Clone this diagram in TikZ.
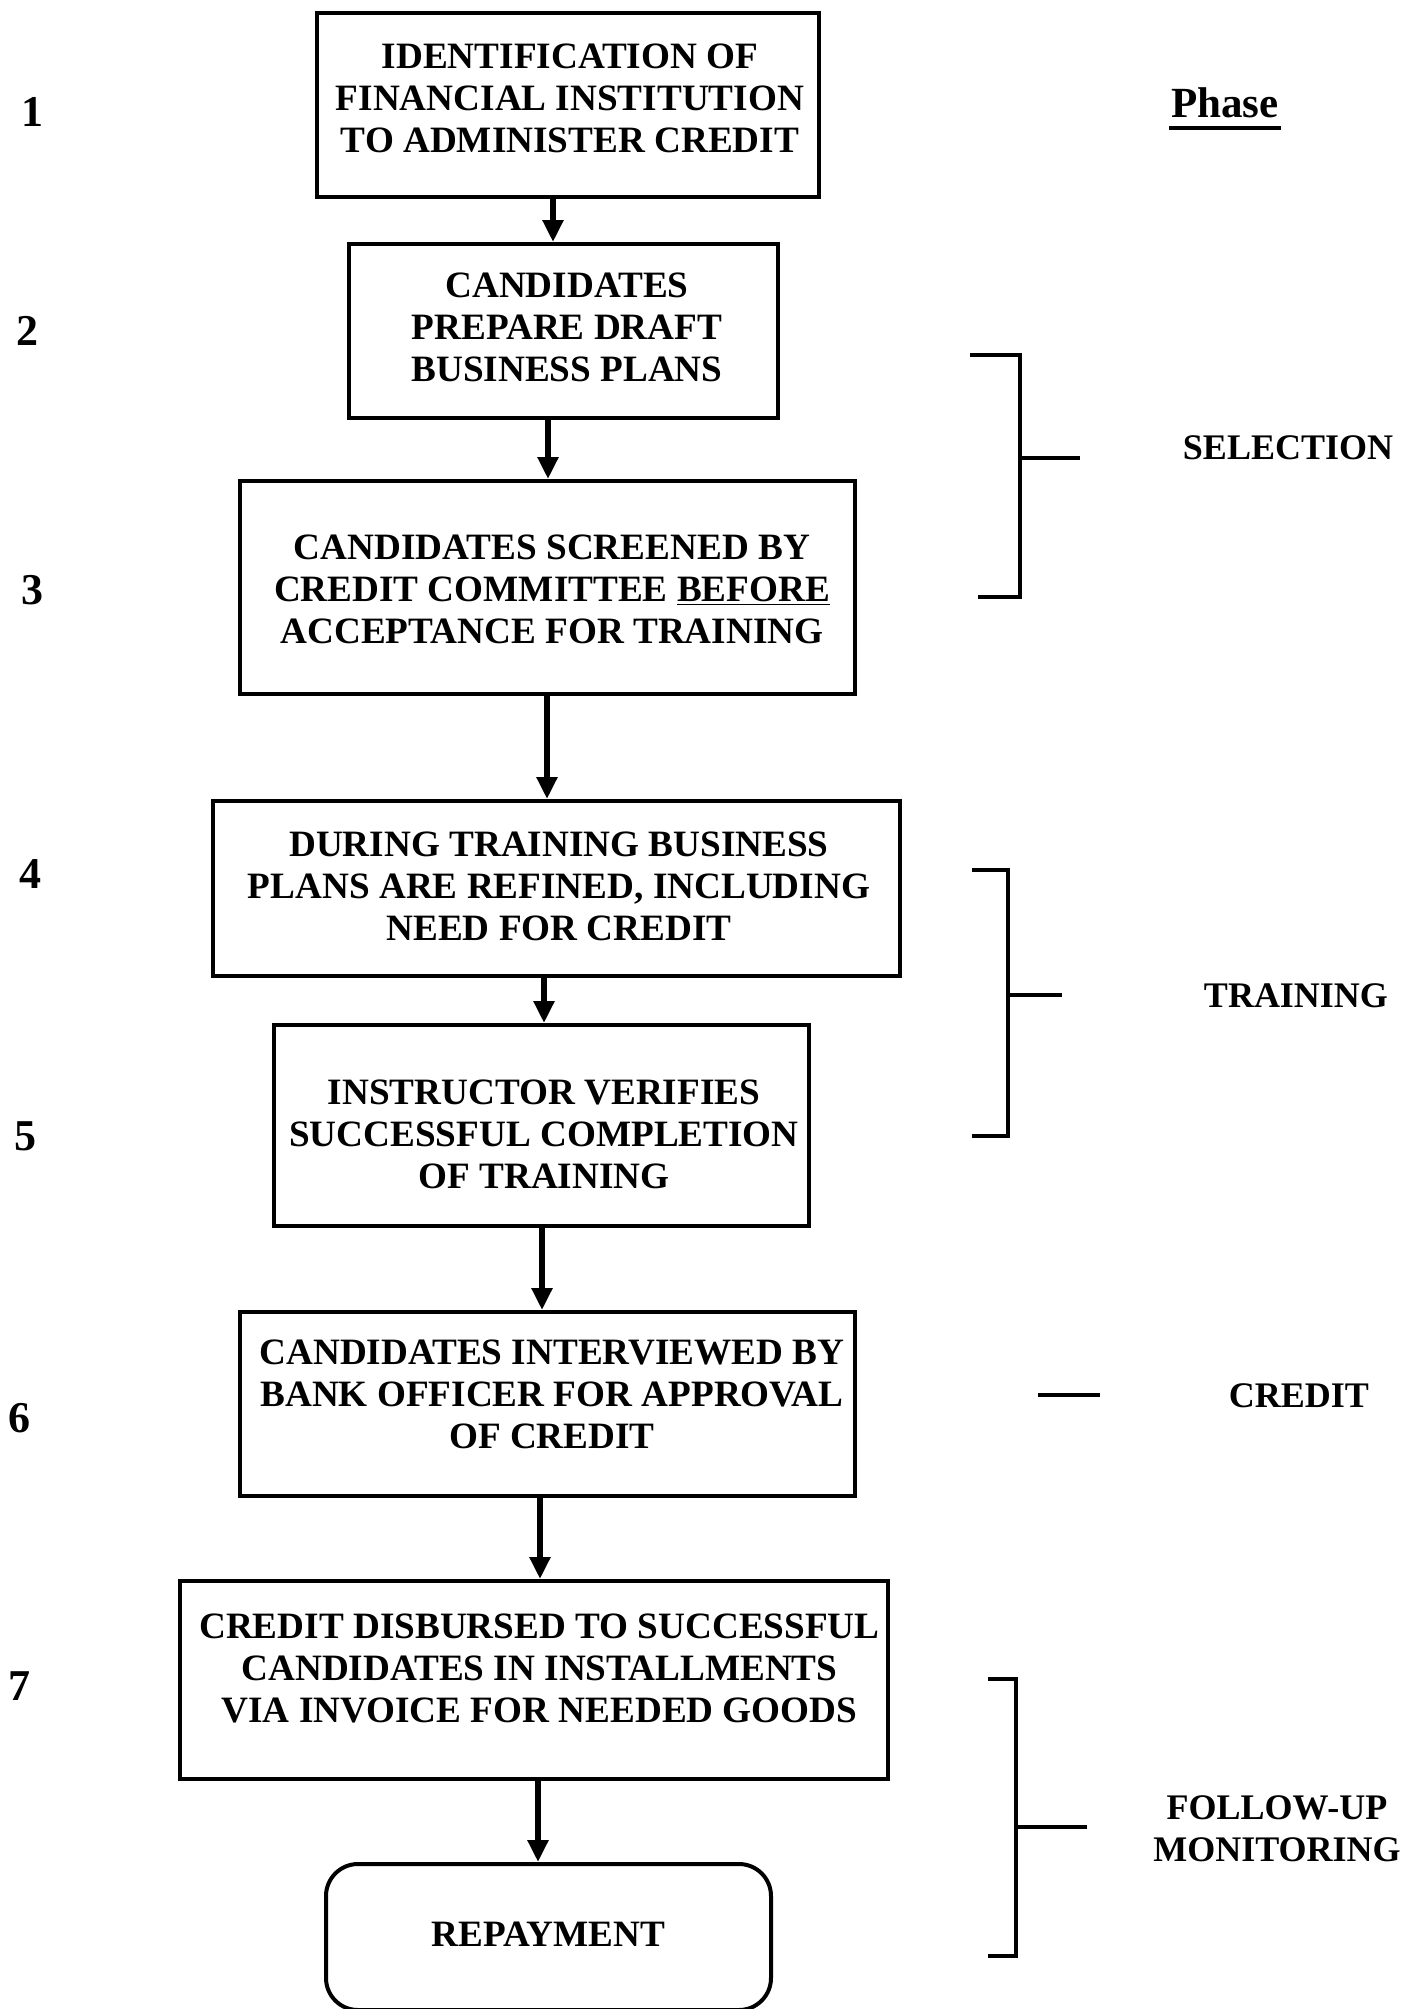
\documentclass[tikz,border=0pt]{standalone}
\usepackage{fontspec}
\setmainfont{Liberation Serif}
\usetikzlibrary{arrows.meta}
\begin{document}
\begin{tikzpicture}[x=0.5pt,y=-0.5pt,
  box/.style={draw, line width=2pt, inner sep=0pt},
  endbox/.style={box, rounded corners=16pt},
  boxtext/.style={font=\bfseries\fontsize{18.6}{21}\selectfont, align=center, inner sep=0pt},
  num/.style={font=\bfseries\fontsize{22}{24}\selectfont, inner sep=0pt},
  phaselabel/.style={font=\bfseries\fontsize{18}{21}\selectfont, align=center, inner sep=0pt},
  flow/.style={line width=2.8pt, -{Triangle[length=11pt,width=10pt]}},
  bracket/.style={line width=1.7pt}]
\useasboundingbox (0,0) rectangle (1414,2009);

% process boxes
\node[box, minimum width=251pt,   minimum height=92pt]   (b1) at (568,105) {};
\node[box, minimum width=214.5pt, minimum height=87pt]   (b2) at (563.5,331) {};
\node[box, minimum width=307.5pt, minimum height=106.5pt] (b3) at (547.5,587.5) {};
\node[box, minimum width=343.5pt, minimum height=87.5pt] (b4) at (556.5,888.5) {};
\node[box, minimum width=267.5pt, minimum height=100.5pt] (b5) at (541.5,1125.5) {};
\node[box, minimum width=307.5pt, minimum height=92pt]   (b6) at (547.5,1404) {};
\node[box, minimum width=354pt,   minimum height=99pt]   (b7) at (534,1680) {};
\node[endbox, minimum width=222.5pt, minimum height=73pt] (b8) at (548.5,1937) {};

% box texts
\node[boxtext] (t1) at (570,98) {IDENTIFICATION OF\\FINANCIAL INSTITUTION\\TO ADMINISTER CREDIT};
\node[boxtext] (t2) at (567,327) {CANDIDATES\\PREPARE DRAFT\\BUSINESS PLANS};
\node[boxtext] (t3) at (552,589) {CANDIDATES SCREENED BY\\CREDIT COMMITTEE \underline{BEFORE}\\ACCEPTANCE FOR TRAINING};
\node[boxtext] (t4) at (559,886) {DURING TRAINING BUSINESS\\PLANS ARE REFINED, INCLUDING\\NEED FOR CREDIT};
\node[boxtext] (t5) at (544,1134) {INSTRUCTOR VERIFIES\\SUCCESSFUL COMPLETION\\OF TRAINING};
\node[boxtext] (t6) at (552,1394) {CANDIDATES INTERVIEWED BY\\BANK OFFICER FOR APPROVAL\\OF CREDIT};
\node[boxtext] (t7) at (539.5,1668) {CREDIT DISBURSED TO SUCCESSFUL\\CANDIDATES IN INSTALLMENTS\\VIA INVOICE FOR NEEDED GOODS};
\node[boxtext] (t8) at (548.5,1934) {REPAYMENT};

% arrow columns
\coordinate (c1) at (553,0);
\coordinate (c2) at (548,0);
\coordinate (c3) at (547,0);
\coordinate (c4) at (544,0);
\coordinate (c5) at (542,0);
\coordinate (c6) at (540,0);
\coordinate (c7) at (538,0);

\draw[flow] (b1.south -| c1) -- (b2.north -| c1);
\draw[flow] (b2.south -| c2) -- (b3.north -| c2);
\draw[flow] (b3.south -| c3) -- (b4.north -| c3);
\draw[flow] (b4.south -| c4) -- (b5.north -| c4);
\draw[flow] (b5.south -| c5) -- (b6.north -| c5);
\draw[flow] (b6.south -| c6) -- (b7.north -| c6);
\draw[flow] (b7.south -| c7) -- (b8.north -| c7);

% step numbers
\node[num] (n1) at (32,112) {1};
\node[num] (n2) at (28,331) {2};
\node[num] (n3) at (32,590) {3};
\node[num] (n4) at (30,874) {4};
\node[num] (n5) at (25,1136) {5};
\node[num] (n6) at (20,1418) {6};
\node[num] (n7) at (20,1686) {7};

% phase heading
\node[font=\bfseries\fontsize{21.5}{24}\selectfont, inner sep=0pt] (ph) at (1225,103) {Phase};
\draw[line width=1.6pt] (1169,128) -- (1281,128);

% phase labels
\node[phaselabel] (p1) at (1288,448) {SELECTION};
\node[phaselabel] (p2) at (1296,996) {TRAINING};
\node[phaselabel] (p3) at (1299,1396) {CREDIT};
\node[phaselabel] (p4) at (1277,1829) {FOLLOW-UP\\MONITORING};

% brackets
\draw[bracket] (970,355) -- (1020,355) -- (1020,597) -- (978,597);
\draw[bracket] (1020,458) -- (1080,458);
\draw[bracket] (972,870) -- (1008,870) -- (1008,1136) -- (972,1136);
\draw[bracket] (1008,995) -- (1062,995);
\draw[bracket] (1038,1395) -- (1100,1395);
\draw[bracket] (988,1679) -- (1016,1679) -- (1016,1956) -- (988,1956);
\draw[bracket] (1016,1827) -- (1087,1827);
\end{tikzpicture}
\end{document}
